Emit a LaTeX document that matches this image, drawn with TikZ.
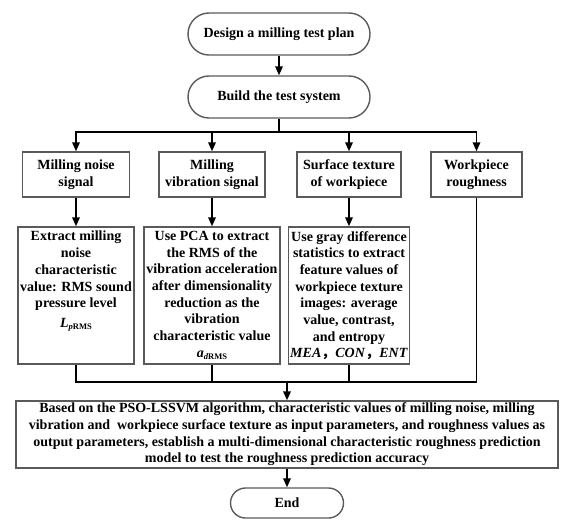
\documentclass[tikz,border=0pt]{standalone}
\usepackage{fontspec}
\setmainfont{Liberation Serif}
\newfontfamily\cjk{Noto Sans CJK SC}
\usetikzlibrary{arrows.meta}
\definecolor{boxgray}{HTML}{5A5A5A}
\newcommand{\sbs}[1]{\raisebox{-2.5pt}{\fontsize{8.5}{8.5}\selectfont #1}}
\begin{document}
\begin{tikzpicture}[x=1pt,y=-1pt,
  font=\fontsize{14}{16.7}\selectfont\bfseries,
  boxline/.style={draw=boxgray, line width=1.4pt},
  term/.style={boxline, rounded corners=21pt, minimum width=182pt, minimum height=42pt, inner sep=0pt},
  box/.style={boxline, rectangle, inner sep=0pt, align=center},
  txt/.style={anchor=north, align=center, inner sep=0pt},
  conn/.style={line width=1.8pt},
  arr/.style={line width=1.8pt, -{Triangle[length=9pt,width=7.5pt]}}
]
\useasboundingbox (0,0) rectangle (575,527);

\node[term] (design) at (279,34) {Design a milling test plan};
\node[term] (build) at (279,97) {Build the test system};

\node[box, minimum width=107pt, minimum height=45pt] (c1) at (76,174.5) {Milling noise\\signal};
\node[box, minimum width=106pt, minimum height=45pt] (c2) at (212,174.5) {Milling\\vibration signal};
\node[box, minimum width=104pt, minimum height=45pt] (c3) at (349,174.5) {Surface texture\\of workpiece};
\node[box, minimum width=91pt, minimum height=45pt] (c4) at (476.5,174.5) {Workpiece\\roughness};

\node[box, minimum width=116pt, minimum height=137pt] (l1) at (76,295.5) {};
\node[box, minimum width=136pt, minimum height=137pt] (l2) at (212,295.5) {};
\node[box, minimum width=121pt, minimum height=137pt] (l3) at (349,295.5) {};

\node[txt] (t1) at (76,231) {Extract milling\\noise\\characteristic\\value: RMS sound\\pressure level\\[3pt]\textit{L}\sbs{\textit{p}RMS}};
\node[txt] (t2) at (212,231) {Use PCA to extract\\the RMS of the\\vibration acceleration\\after dimensionality\\reduction as the\\vibration\\characteristic value\\\textit{a}\sbs{\textit{d}RMS}};
\node[txt] (t3) at (349,231) {Use gray difference\\statistics to extract\\feature values of\\workpiece texture\\images: average\\value, contrast,\\and entropy\\\textit{MEA}{\cjk ，}\textit{CON}{\cjk ，}\textit{ENT}};

\node[box, minimum width=542pt, minimum height=67pt] (big) at (287,434.5) {Based on the PSO-LSSVM algorithm, characteristic values of milling noise, milling\\vibration and\ \ workpiece surface texture as input parameters, and roughness values as\\output parameters, establish a multi-dimensional characteristic roughness prediction\\model to test the roughness prediction accuracy};

\node[term, rounded corners=15pt, minimum width=113pt, minimum height=30pt] (end) at (287,503) {End};

\draw[arr] (design) -- (build);
\coordinate (bus1) at (279,132);
\draw[conn] (build.south) -- (bus1);
\draw[arr] (bus1) -| (c1);
\draw[arr] (bus1) -| (c2);
\draw[arr] (bus1) -| (c3);
\draw[arr] (bus1) -| (c4);

\draw[arr] (c1) -- (l1);
\draw[arr] (c2) -- (l2);
\draw[arr] (c3) -- (l3);

\coordinate (bus2) at (287,382);
\draw[conn] (l1) |- (bus2);
\draw[conn] (l2) |- (bus2);
\draw[conn] (l3) |- (bus2);
\draw[conn] (c4) |- (bus2);
\draw[arr] (bus2) -- (big);
\draw[arr] (big) -- (end);
\end{tikzpicture}
\end{document}
